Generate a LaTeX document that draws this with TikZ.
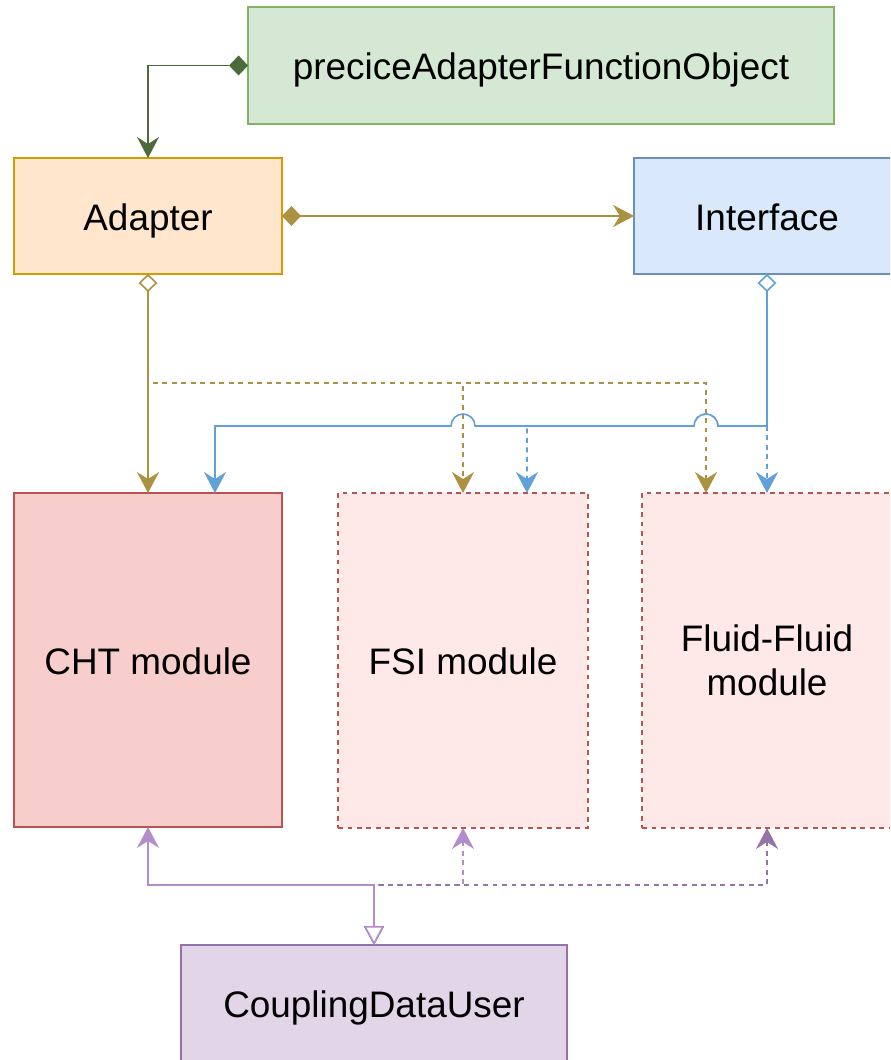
\documentclass[tikz,border=0pt]{standalone}
\usepackage{fontspec}
\setmainfont{Liberation Sans}
\usetikzlibrary{arrows.meta}
\definecolor{gFill}{HTML}{D5E8D4}\definecolor{gLine}{HTML}{82B366}
\definecolor{oFill}{HTML}{FFE6CC}\definecolor{oLine}{HTML}{D79B00}
\definecolor{bFill}{HTML}{DAE8FC}\definecolor{bLine}{HTML}{6C8EBF}
\definecolor{rFill}{HTML}{F8CECC}\definecolor{rLight}{HTML}{FFE8E8}\definecolor{rLine}{HTML}{B85450}
\definecolor{pFill}{HTML}{E1D5E7}\definecolor{pLine}{HTML}{9673A6}
\definecolor{cGreen}{HTML}{4D6B3A}\definecolor{cOlive}{HTML}{AD9142}
\definecolor{cBlue}{HTML}{62A0D8}\definecolor{cPurple}{HTML}{B38CCB}

\begin{document}
\begin{tikzpicture}[x=0.02cm, y=-0.02cm, line width=0.9pt,
  b/.style 2 args={draw=#1, fill=#2, inner sep=0pt, outer sep=0pt, align=center, font=\fontsize{21}{25}\selectfont},
  sz/.style 2 args={minimum width=#1cm, minimum height=#2cm},
  one/.style={text height=19.2pt, text depth=3.2pt},
  dsh/.style={dash pattern=on 2.8pt off 2.6pt},
  >={Stealth[length=0.42cm, width=0.44cm, inset=0.14cm]}]
\path[use as bounding box, clip] (0,0) rectangle (890,1060);
\node[b={gLine}{gFill}, one, sz={11.72}{2.34}] (pafo) at (541,65.5) {preciceAdapterFunctionObject};
\node[b={oLine}{oFill}, one, sz={5.36}{2.32}] (adapter) at (148,216) {Adapter};
\node[b={bLine}{bFill}, one, sz={5.32}{2.32}] (iface) at (767,216) {Interface};
\node[b={rLine}{rFill}, one, sz={5.36}{6.68}] (cht) at (148,660) {CHT module};
\node[b={rLine}{rLight}, one, dsh, sz={5.0}{6.7}] (fsi) at (463,660.5) {FSI module};
\node[b={rLine}{rLight}, dsh, sz={5.0}{6.7}] (fluid) at (767,660.5) {Fluid-Fluid\\module};
\node[b={pLine}{pFill}, one, sz={7.72}{2.32}] (cdu) at (374,1003) {CouplingDataUser};
% owner -> adapter, adapter -> interface
\draw[cGreen, {Diamond[length=0.38cm, width=0.4cm]}->] (pafo.west) -| (adapter.north);
\draw[cOlive, {Diamond[length=0.38cm, width=0.4cm]}->] (adapter.east) -- (iface.west);
% adapter -> modules
\draw[cOlive, dsh, ->] (adapter.south) -- ++(0,109) -| (fsi.north);
\draw[cOlive, dsh, ->] (adapter.south) -- ++(0,109) -| ([xshift=-1.22cm]fluid.north);
\draw[cOlive, {Diamond[length=0.36cm, width=0.38cm, fill=white]}->] (adapter.south) -- (cht.north);
% interface -> modules (with line jumps)
\draw[cBlue, dsh, ->] (iface.south) -- (fluid.north);
\draw[cBlue, dsh, ->] (iface.south) -- ++(0,152) -- ++(-49,0) arc[start angle=0, end angle=180, radius=0.24cm] -| ([xshift=1.28cm]fsi.north);
\draw[cBlue, {Diamond[length=0.36cm, width=0.38cm, fill=white]}->] (iface.south) -- ++(0,152) -- ++(-49,0)
  arc[start angle=0, end angle=180, radius=0.24cm] -- ++(-219,0)
  arc[start angle=0, end angle=180, radius=0.24cm] -| ([xshift=1.34cm]cht.north);
% modules -> coupling data user
\draw[cPurple, dsh, <-{Triangle[length=0.38cm, width=0.4cm, fill=white]}] (fsi.south) -- ++(0,57) -| (cdu.north);
\draw[pLine, dsh, <-{Triangle[length=0.38cm, width=0.4cm, fill=white]}] (fluid.south) -- ++(0,57) -| (cdu.north);
\draw[cPurple, <-{Triangle[length=0.38cm, width=0.4cm, fill=white]}] (cht.south) -- ++(0,58) -| (cdu.north);
\end{tikzpicture}
\end{document}
